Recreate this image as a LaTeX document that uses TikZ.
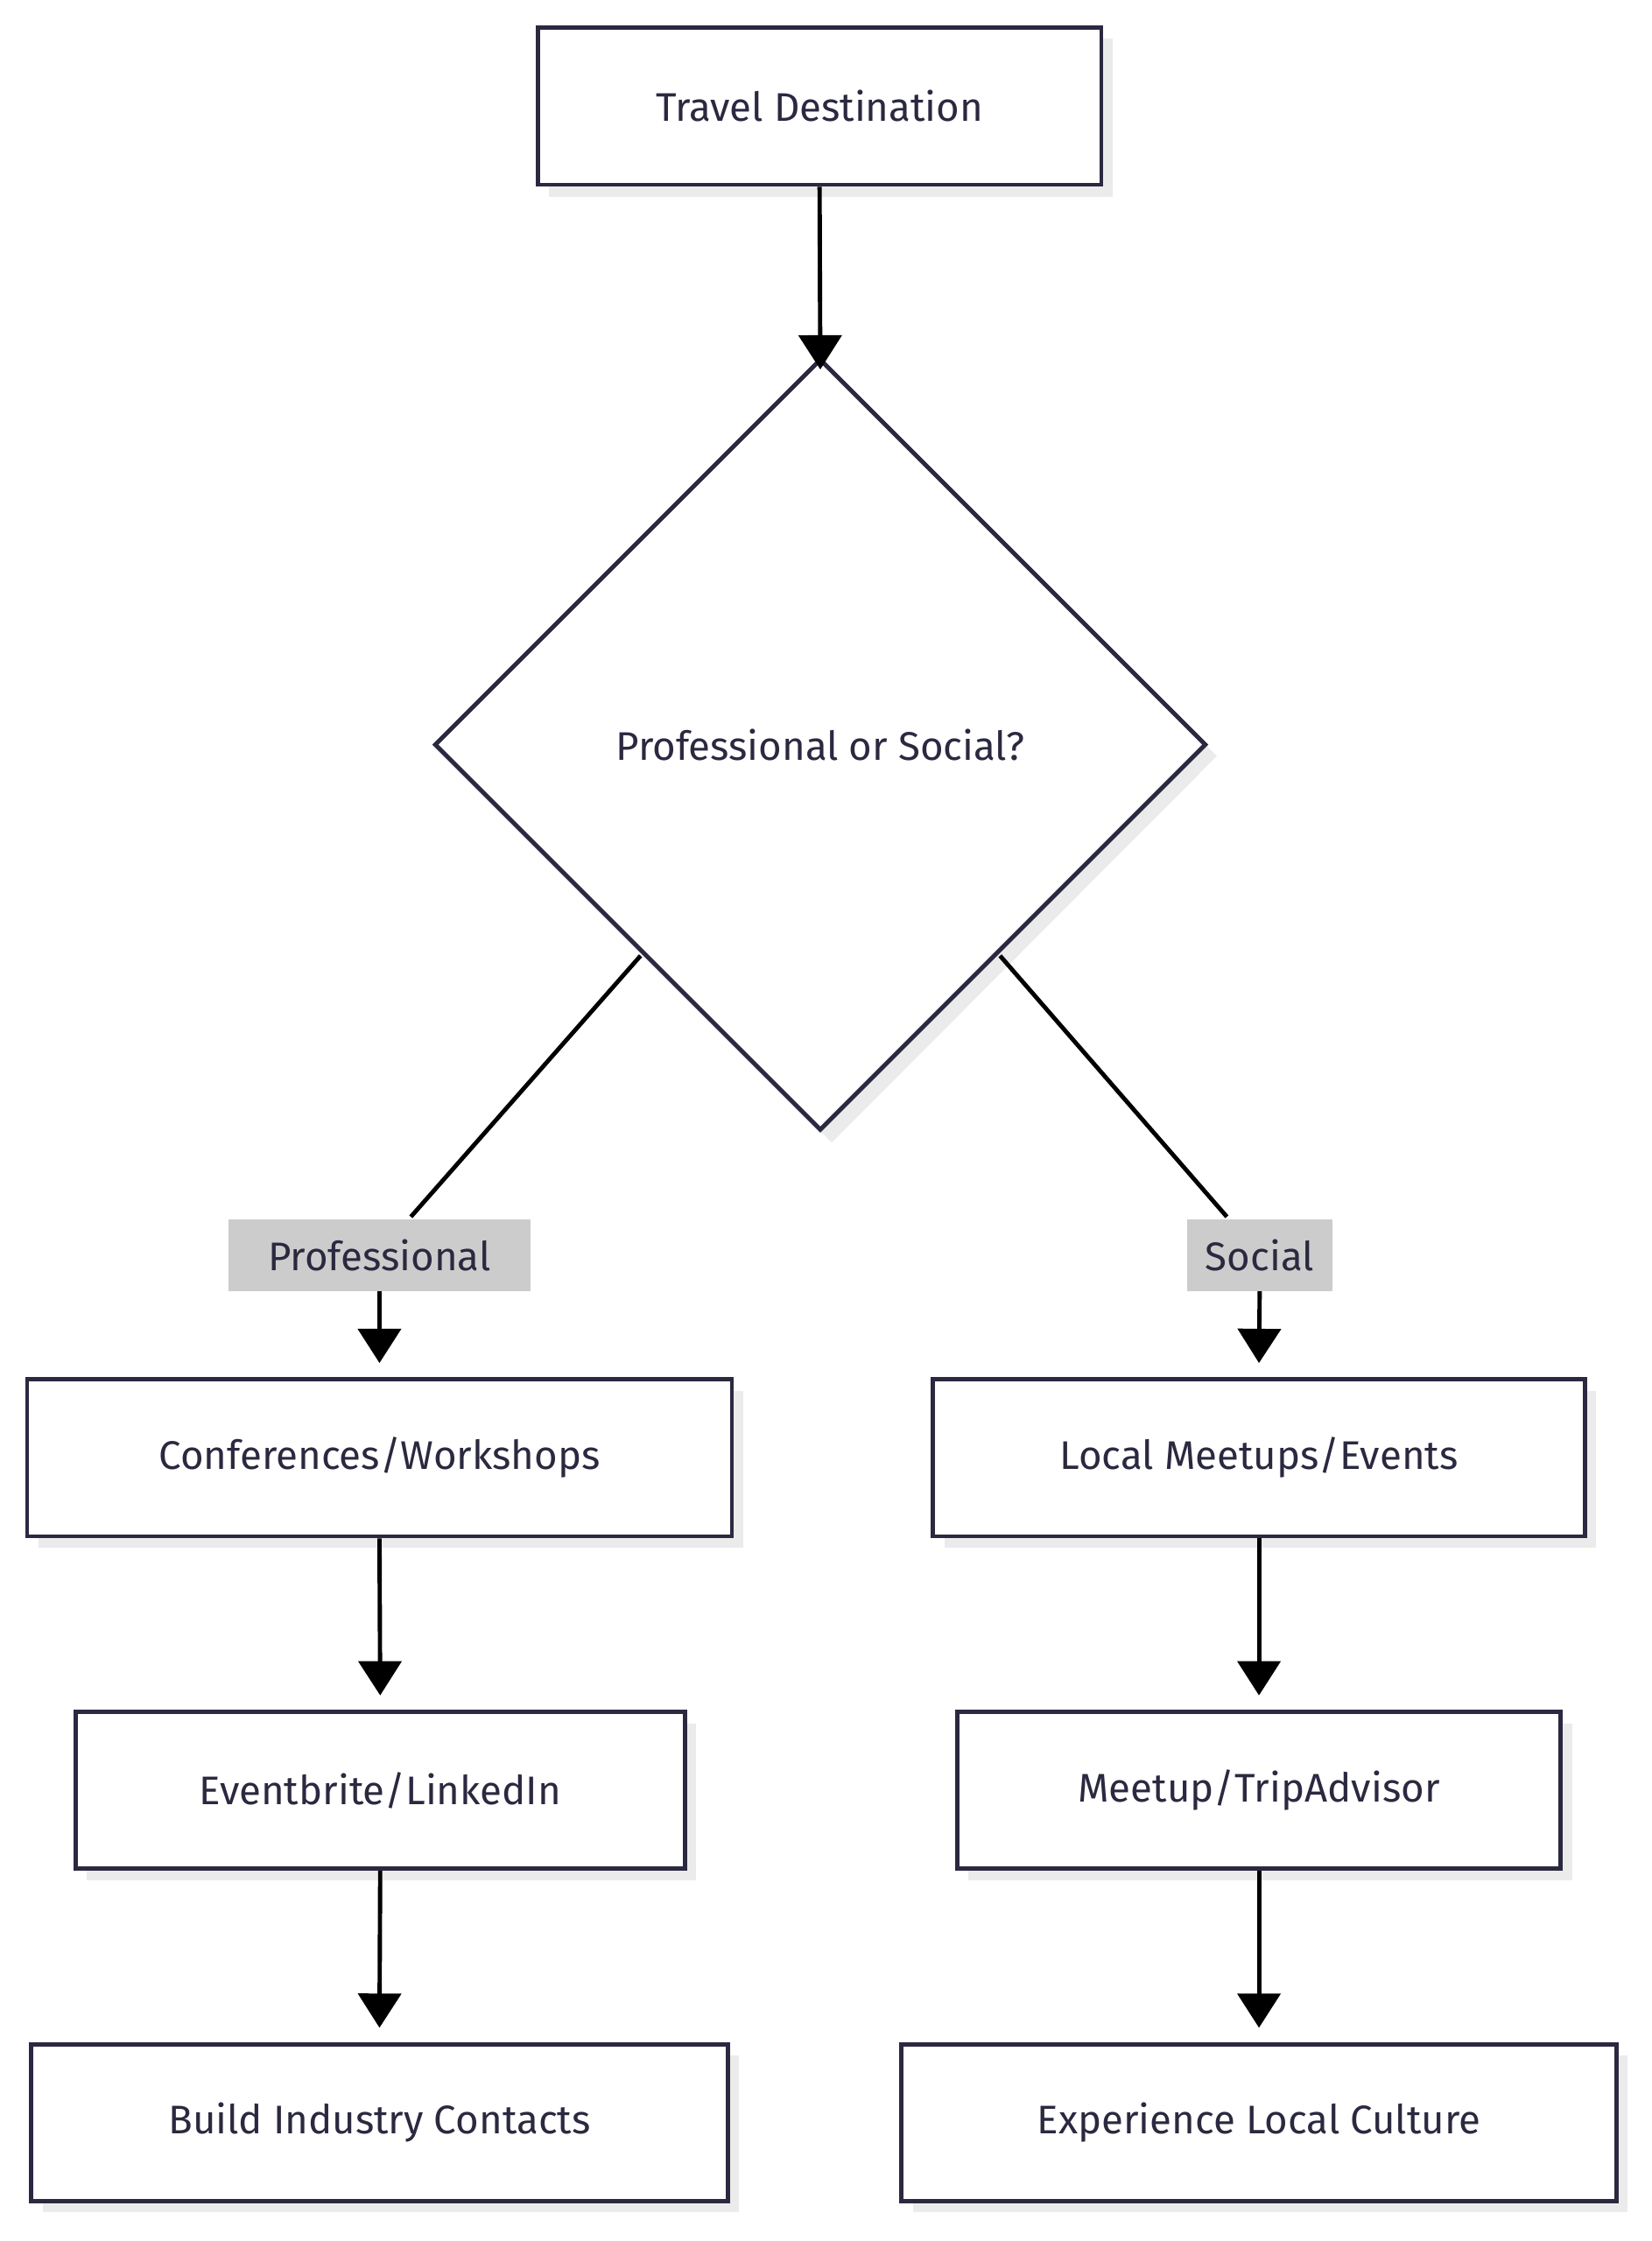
\documentclass[tikz,border=0pt]{standalone}
\usepackage{fontspec}
\setmainfont{Fira Sans}
\usetikzlibrary{shapes.geometric,arrows.meta}
\definecolor{ink}{HTML}{2A2940}
\definecolor{lbl}{HTML}{CCCCCC}
\definecolor{shd}{HTML}{EBEBEB}
\begin{document}
\begin{tikzpicture}[x=1pt,y=-1pt,
  txt/.style={font=\fontsize{28}{32}\selectfont,text=ink},
  box/.style={txt,draw=ink,line width=3pt,fill=white,minimum height=110pt,inner sep=0pt},
  shadow/.style={fill=shd,draw=none},
  lab/.style={txt,fill=lbl,inner sep=1pt,minimum height=50pt},
  arr/.style={line width=3pt,-{Triangle[length=24pt,width=30pt]}},
  ln/.style={line width=3pt}]
\useasboundingbox (0,0) rectangle (1158,1571);
% shadows
\fill[shd] (385,27) rectangle (780,138);
\fill[shd] (312,530) -- (583,259) -- (853,530) -- (583,801) -- cycle;
\foreach \a/\b/\c/\d in {19/967/513/1077,654/967/1111/1077,53/1200/480/1310,671/1200/1094/1310,22/1433/510/1543,632/1433/1133/1543}
  \fill[shd] (\a+8,\b+8) rectangle (\c+8,\d+8);
% nodes
\node[box,minimum width=395pt] (td) at (574.5,74.5) {Travel Destination};
\node[diamond,txt,draw=ink,line width=3pt,fill=white,minimum width=541pt,minimum height=541pt,inner sep=0pt,aspect=1] (d) at (575,522) {Professional or Social?};
\node[lab,minimum width=212pt] (lp) at (266,880) {Professional};
\node[lab,minimum width=102pt] (ls) at (883,880) {Social};
\node[box,minimum width=494pt] (c) at (266,1022) {Conferences/Workshops};
\node[box,minimum width=457pt] (m) at (882.5,1022) {Local Meetups/Events};
\node[box,minimum width=427pt] (e) at (266.5,1255) {Eventbrite/LinkedIn};
\node[box,minimum width=423pt] (t) at (882.5,1255) {Meetup/TripAdvisor};
\node[box,minimum width=488pt] (b) at (266,1488) {Build Industry Contacts};
\node[box,minimum width=501pt] (x) at (882.5,1488) {Experience Local Culture};
% edges
\draw[arr] (td.south) -- ([yshift=-9pt]d.north);
\draw[ln] (449,670) -- (288,853);
\draw[ln] (701,670) -- (860,853);
\draw[arr] (lp.south) -- ([yshift=10pt]c.north);
\draw[arr] (ls.south) -- ([yshift=10pt]m.north);
\draw[arr] (c.south) -- ([yshift=10pt]e.north);
\draw[arr] (m.south) -- ([yshift=10pt]t.north);
\draw[arr] (e.south) -- ([yshift=10pt]b.north);
\draw[arr] (t.south) -- ([yshift=10pt]x.north);
\end{tikzpicture}
\end{document}
